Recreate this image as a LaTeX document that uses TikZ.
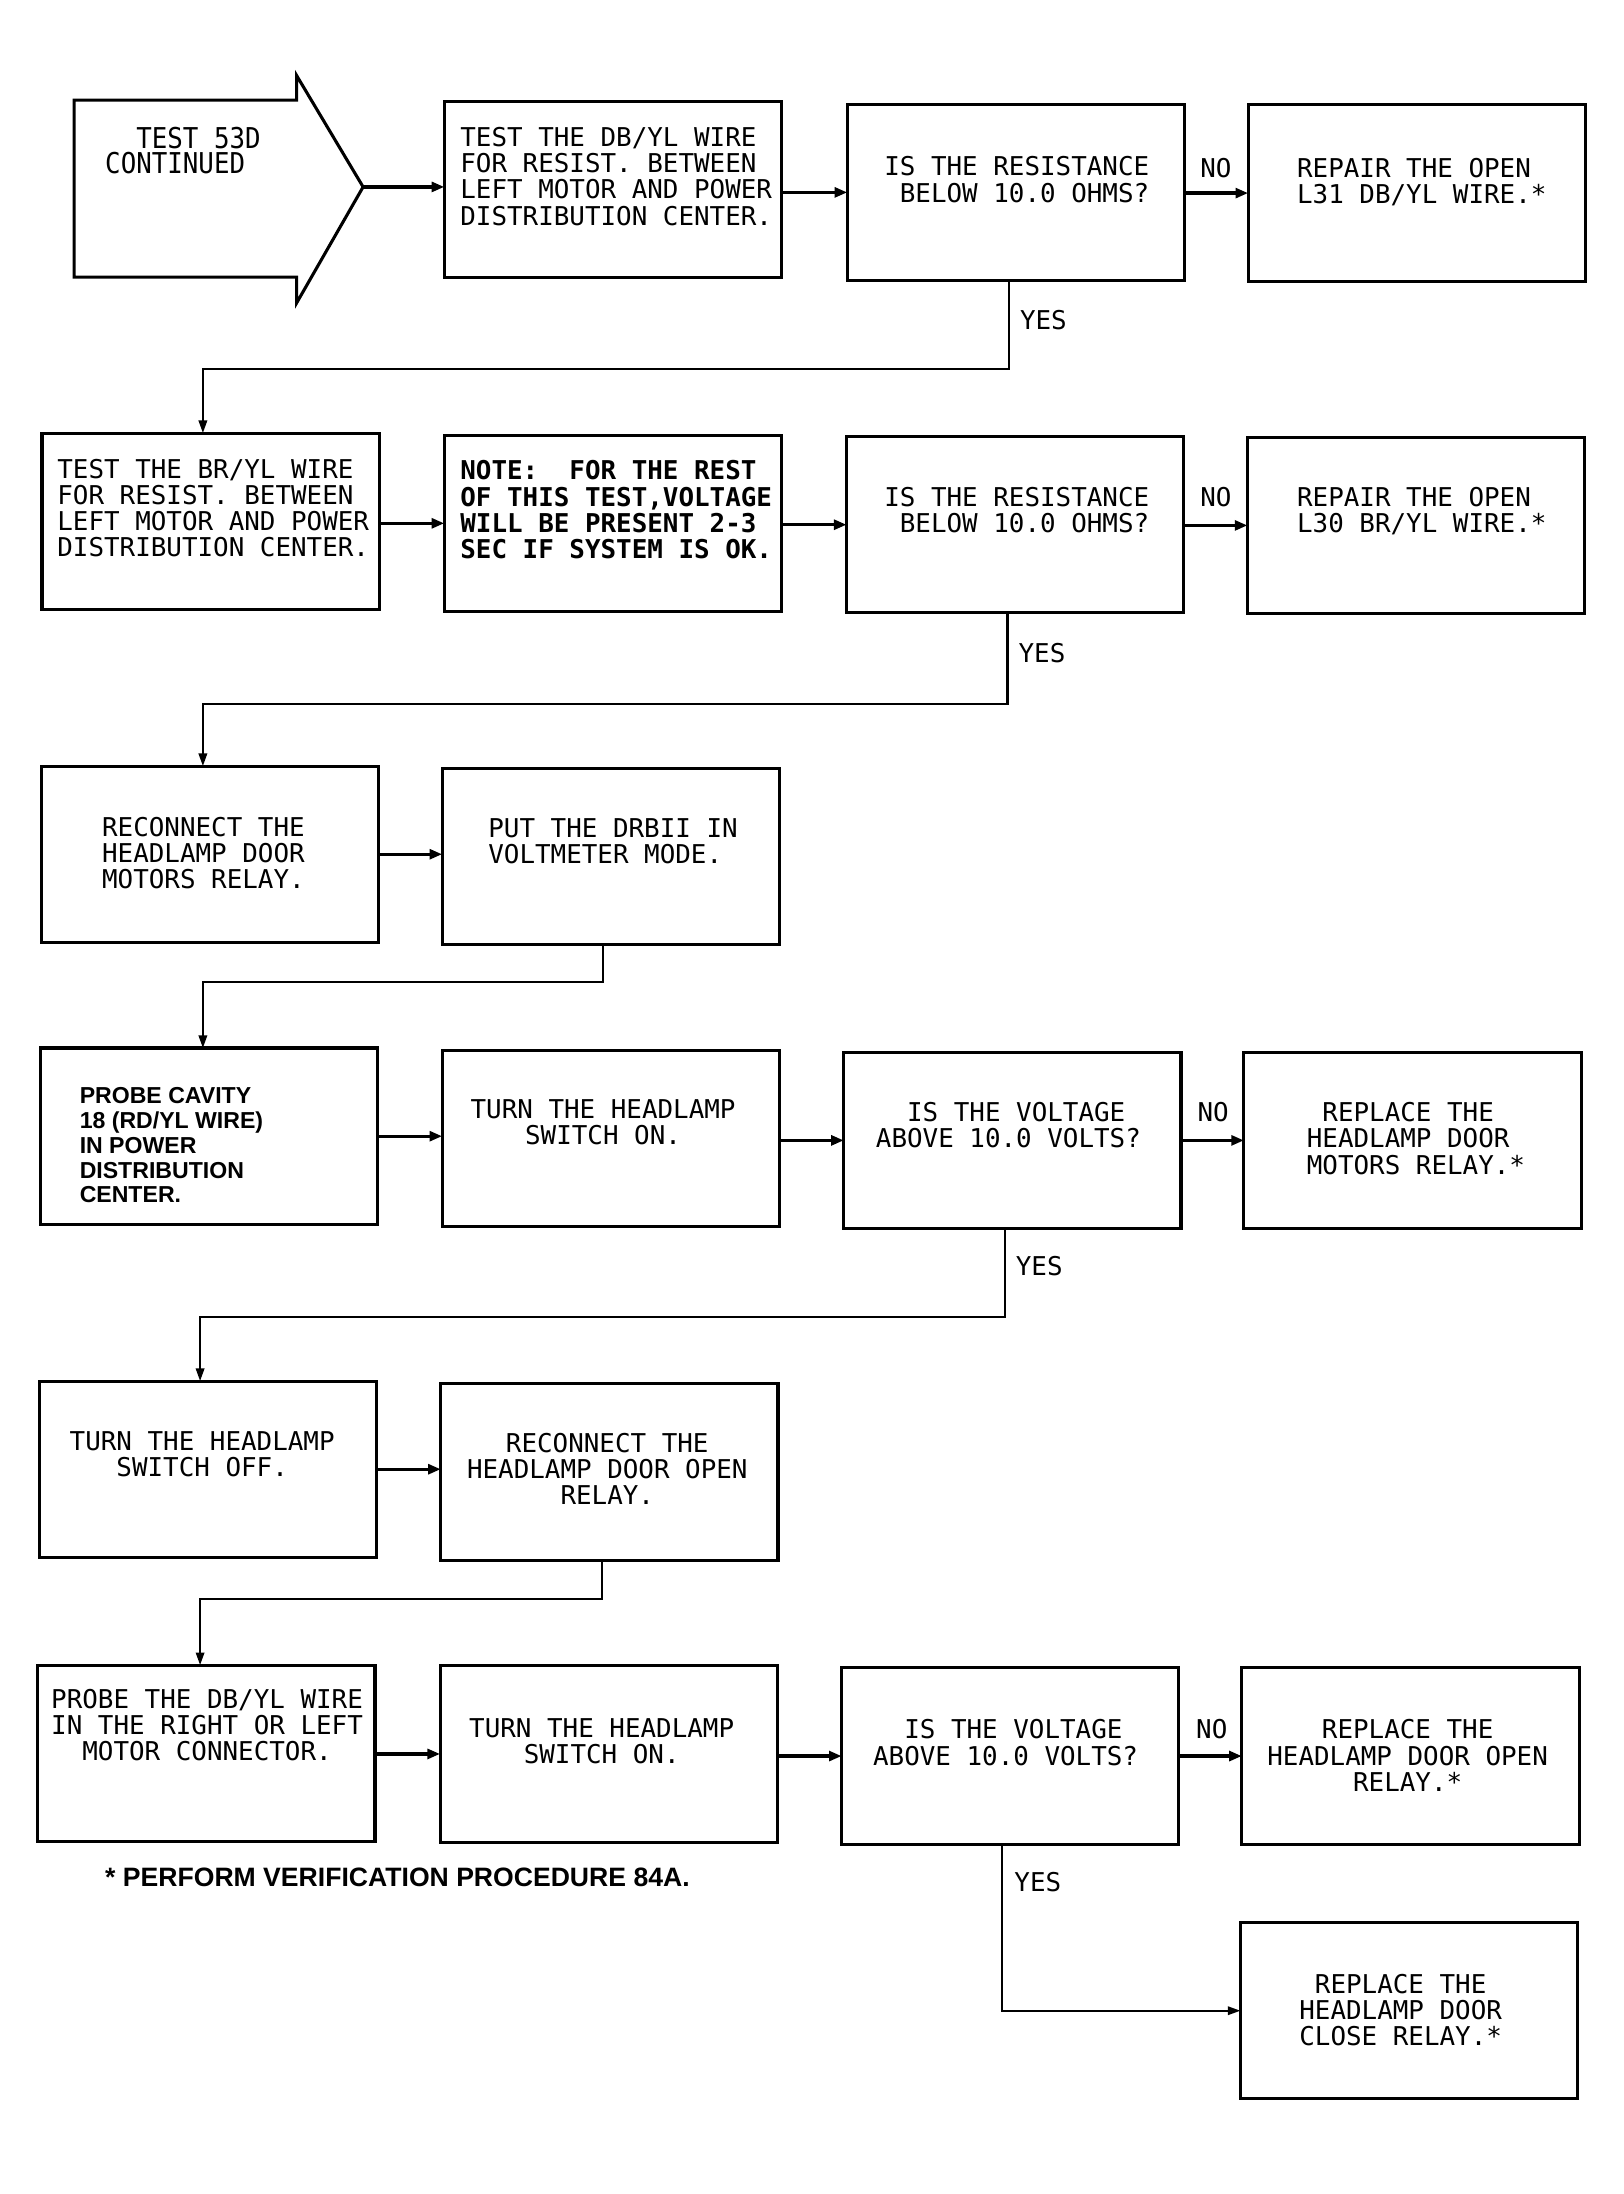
\documentclass[tikz,border=0pt]{standalone}
\usepackage{fontspec}
\newfontfamily\plotfont{DejaVu Sans Mono}
\newfontfamily\bigplotfont[FakeStretch=0.9]{DejaVu Sans Mono}
\newfontfamily\helvfont{Liberation Sans}
\usetikzlibrary{arrows.meta}
\tikzset{
  flowbox/.style={draw, line width=2.2pt, minimum width=241pt, minimum height=126pt, inner sep=0pt, outer sep=0pt},
  boxtext/.style={inner sep=0pt, outer sep=0pt, font=\plotfont\fontsize{18.5}{18.7}\selectfont},
  ltext/.style={boxtext, anchor=north west, align=left},
  ctext/.style={boxtext, anchor=north, align=center},
  mainarrow/.style={line width=2.4pt, -{Triangle[length=9pt,width=7pt]}},
  yesline/.style={line width=1.5pt, -{Triangle[length=9pt,width=6pt]}},
  boldsans/.style={inner sep=0pt, outer sep=0pt, anchor=north west, align=left, font=\helvfont\bfseries\fontsize{16.5}{17.8}\selectfont},
  outline/.style={line width=2.2pt, line join=miter},
}
\begin{document}
\begin{tikzpicture}[x=1pt,y=-1pt]
\fill[white] (0,0) rectangle (1160,1568);
\useasboundingbox (0,0) rectangle (1160,1568);

% start arrow
\draw[outline] (53,71.5) -- (212,71.5) -- (212,54) -- (259.5,133.6) -- (212,216.5) -- (212,198) -- (53,198) -- cycle;
\coordinate (tip) at (259.5,133.6);
\node[inner sep=0pt, anchor=north west, align=left, font=\bigplotfont\fontsize{20.5}{17.6}\selectfont] (start) at (75,91) {\phantom{XX}TEST 53D\\CONTINUED};

% row 1
\node[flowbox] (A1) at (438,135.5) {};
\node[flowbox] (A2) at (726,137.5) {};
\node[flowbox] (A3) at (1012.5,138) {};
\node[ltext] (tA1) at (329,91) {TEST THE DB/YL WIRE\\FOR RESIST. BETWEEN\\LEFT MOTOR AND POWER\\DISTRIBUTION CENTER.};
\node[ltext] (tA2) at (632,112) {IS THE RESISTANCE\\\phantom{X}BELOW 10.0 OHMS?};
\node[ltext] (tA3) at (927,113) {REPAIR THE OPEN\\L31 DB/YL WIRE.*};
\node[ctext] (no1) at (869,113) {NO};
\node[ltext] (yes1) at (729,222) {YES};

% row 2
\node[flowbox] (B1) at (150.5,372.5) {};
\node[flowbox] (B2) at (438,374) {};
\node[flowbox] (B3) at (725.5,375) {};
\node[flowbox] (B4) at (1012,375.5) {};
\node[ltext] (tB1) at (41,328) {TEST THE BR/YL WIRE\\FOR RESIST. BETWEEN\\LEFT MOTOR AND POWER\\DISTRIBUTION CENTER.};
\node[ltext, font=\plotfont\bfseries\fontsize{18.5}{18.9}\selectfont] (tB2) at (329,329) {NOTE:~~FOR THE REST\\OF THIS TEST,VOLTAGE\\WILL BE PRESENT 2-3\\SEC IF SYSTEM IS OK.};
\node[ltext] (tB3) at (632,348) {IS THE RESISTANCE\\\phantom{X}BELOW 10.0 OHMS?};
\node[ltext] (tB4) at (927,348) {REPAIR THE OPEN\\L30 BR/YL WIRE.*};
\node[ctext] (no2) at (869,348) {NO};
\node[ltext] (yes2) at (728,460) {YES};

% row 3
\node[flowbox] (C1) at (150,610.5) {};
\node[flowbox] (C2) at (436.5,612) {};
\node[ltext] (tC1) at (73,584) {RECONNECT THE\\HEADLAMP DOOR\\MOTORS RELAY.};
\node[ltext] (tC2) at (349,585) {PUT THE DRBII IN\\VOLTMETER MODE.};

% row 4
\node[flowbox] (D1) at (149.5,812) {};
\node[flowbox] (D2) at (436.5,813.5) {};
\node[flowbox] (D3) at (723.5,815) {};
\node[flowbox] (D4) at (1009.5,815) {};
\node[boldsans] (tD1) at (57,777) {PROBE CAVITY\\18 (RD/YL WIRE)\\IN POWER\\DISTRIBUTION\\CENTER.};
\node[ctext] (tD2) at (431,786) {TURN THE HEADLAMP\\SWITCH ON.};
\node[ltext] (tD3) at (626,788) {\phantom{XX}IS THE VOLTAGE\\ABOVE 10.0 VOLTS?};
\node[ltext] (tD4) at (934,788) {\phantom{X}REPLACE THE\\HEADLAMP DOOR\\MOTORS RELAY.*};
\node[ctext] (no3) at (867,788) {NO};
\node[ltext] (yes3) at (726,898) {YES};

% row 5
\node[flowbox] (E1) at (148.5,1050) {};
\node[flowbox] (E2) at (435.5,1052) {};
\node[ctext] (tE1) at (144.5,1023) {TURN THE HEADLAMP\\SWITCH OFF.};
\node[ctext] (tE2) at (434,1024) {RECONNECT THE\\HEADLAMP DOOR OPEN\\RELAY.};

% row 6
\node[flowbox] (F1) at (147.5,1253) {};
\node[flowbox] (F2) at (435,1253.5) {};
\node[flowbox] (F3) at (722,1255) {};
\node[flowbox] (F4) at (1008,1255) {};
\node[ctext] (tF1) at (148,1207) {PROBE THE DB/YL WIRE\\IN THE RIGHT OR LEFT\\MOTOR CONNECTOR.};
\node[ctext] (tF2) at (430,1228) {TURN THE HEADLAMP\\SWITCH ON.};
\node[ltext] (tF3) at (624,1229) {\phantom{XX}IS THE VOLTAGE\\ABOVE 10.0 VOLTS?};
\node[ctext] (tF4) at (1006,1229) {REPLACE THE\\HEADLAMP DOOR OPEN\\RELAY.*};
\node[ctext] (no4) at (866,1229) {NO};
\node[ltext] (yes4) at (725,1338) {YES};

% last
\node[flowbox] (G) at (1007,1437) {};
\node[ctext] (tG) at (1001,1411) {REPLACE THE\\HEADLAMP DOOR\\CLOSE RELAY.*};

% footnote
\node[inner sep=0pt, anchor=north west, font=\helvfont\bfseries\fontsize{19}{20}\selectfont] (foot) at (75,1334.5) {* PERFORM VERIFICATION PROCEDURE 84A.};

% connectors
\draw[mainarrow] (tip) -- (A1.west |- tip);
\draw[mainarrow] (A1.east |- A2) -- (A2.west);
\draw[mainarrow] (A2.east |- A3) -- (A3.west);
\draw[yesline] ([xshift=-5pt]A2.south) -- ++(0,63) -| ([xshift=-5.5pt]B1.north);

\draw[mainarrow] (B1.east |- B2) -- (B2.west);
\draw[mainarrow] (B2.east |- B3) -- (B3.west);
\draw[mainarrow] (B3.east |- B4) -- (B4.west);
\draw[yesline] ([xshift=-5.5pt]B3.south) -- ++(0,65) -| ([xshift=-5pt]C1.north);

\draw[mainarrow] (C1.east) -- (C2.west |- C1);
\draw[yesline] ([xshift=-5.5pt]C2.south) -- ++(0,27) -| ([xshift=-4.5pt]D1.north);

\draw[mainarrow] (D1.east) -- (D2.west |- D1);
\draw[mainarrow] (D2.east |- D3) -- (D3.west);
\draw[mainarrow] (D3.east) -- (D4.west);
\draw[yesline] ([xshift=-5.5pt]D3.south) -- ++(0,63) -| ([xshift=-5.5pt]E1.north);

\draw[mainarrow] (E1.east) -- (E2.west |- E1);
\draw[yesline] ([xshift=-5.5pt]E2.south) -- ++(0,28) -| ([xshift=-4.5pt]F1.north);

\draw[mainarrow] (F1.east |- F2) -- (F2.west);
\draw[mainarrow] (F2.east |- F3) -- (F3.west);
\draw[mainarrow] (F3.east) -- (F4.west);
\draw[yesline] ([xshift=-6pt]F3.south) |- (G.west);
\end{tikzpicture}
\end{document}
